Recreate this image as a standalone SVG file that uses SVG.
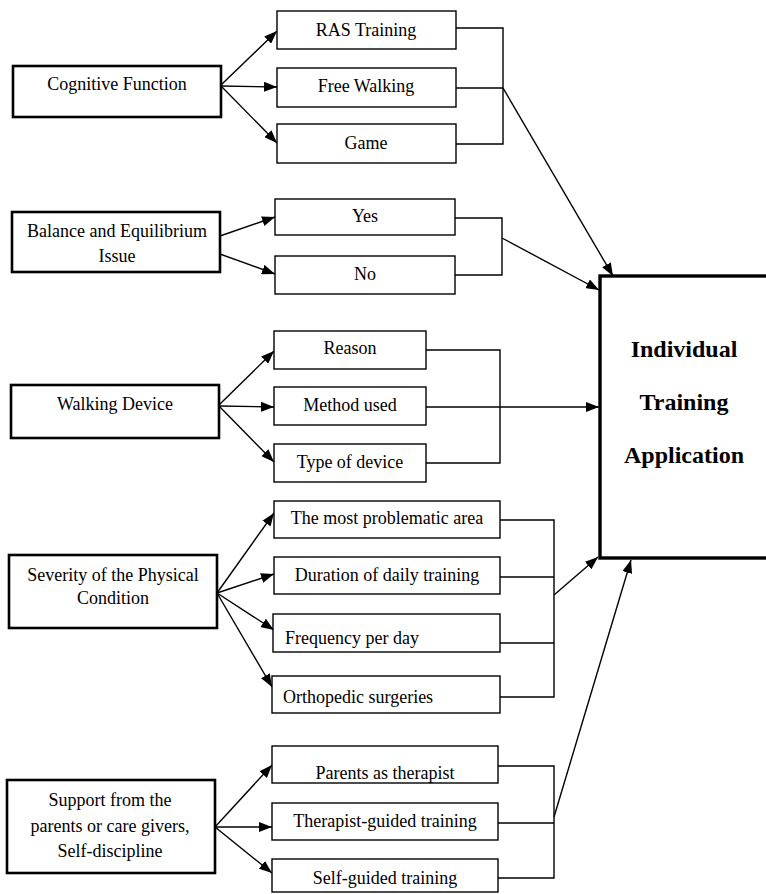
<svg xmlns="http://www.w3.org/2000/svg" width="766" height="894" viewBox="0 0 766 894">
<style>
.bg{fill:#fff}
.main{fill:#fff;stroke:#000;stroke-width:2.6}
.sub{fill:#fff;stroke:#000;stroke-width:1.4}
.big{fill:#fff;stroke:#000;stroke-width:3.4}
.t{font-family:"Liberation Serif","Times New Roman",serif;font-size:18px;fill:#000;text-anchor:middle}
.tl{font-family:"Liberation Serif","Times New Roman",serif;font-size:18px;fill:#000;text-anchor:start}
.tb{font-family:"Liberation Serif","Times New Roman",serif;font-size:24px;font-weight:bold;fill:#000;text-anchor:middle}
.c{fill:none;stroke:#000;stroke-width:1.4}
.a{fill:none;stroke:#000;stroke-width:1.4;marker-end:url(#arr)}
</style>
<defs>
<marker id="arr" markerUnits="userSpaceOnUse" markerWidth="13" markerHeight="10" refX="13" refY="5" orient="auto">
<path d="M0,0 L13,5 L0,10 z" fill="#000"/>
</marker>
</defs>
<rect class="bg" x="0" y="0" width="766" height="894"/>

<g id="connectors">
<!-- Cognitive fan -->
<line class="a" x1="221" y1="85" x2="277" y2="31"/>
<line class="a" x1="221" y1="86" x2="277" y2="87"/>
<line class="a" x1="221" y1="86" x2="277" y2="143"/>
<!-- bracket 1 -->
<polyline class="c" points="456,28 503,28 503,144 456,144"/>
<line class="c" x1="456" y1="88" x2="503" y2="88"/>
<line class="a" x1="503" y1="88" x2="613" y2="276"/>
<!-- Balance fan -->
<line class="a" x1="220" y1="236" x2="275" y2="217"/>
<line class="a" x1="220" y1="254" x2="275" y2="274"/>
<polyline class="c" points="455,218 502,218 502,275 455,275"/>
<line class="a" x1="502" y1="238" x2="599" y2="290"/>
<!-- Walking fan -->
<line class="a" x1="219" y1="405" x2="274" y2="351"/>
<line class="a" x1="219" y1="406" x2="274" y2="407"/>
<line class="a" x1="219" y1="406" x2="274" y2="462"/>
<polyline class="c" points="426,350 500,350 500,463 426,463"/>
<line class="a" x1="426" y1="407" x2="599" y2="407"/>
<!-- Severity fan -->
<line class="a" x1="217" y1="593" x2="274" y2="513"/>
<line class="a" x1="217" y1="593" x2="274" y2="574"/>
<line class="a" x1="217" y1="593" x2="274" y2="630"/>
<line class="a" x1="217" y1="593" x2="272" y2="687"/>
<polyline class="c" points="500,520 554,520 554,697 500,697"/>
<line class="c" x1="500" y1="577" x2="554" y2="577"/>
<line class="c" x1="500" y1="643" x2="554" y2="643"/>
<line class="a" x1="554" y1="595" x2="598" y2="557"/>
<!-- Support fan -->
<line class="a" x1="215" y1="827" x2="272" y2="765"/>
<line class="a" x1="215" y1="827" x2="272" y2="827"/>
<line class="a" x1="215" y1="827" x2="272" y2="873"/>
<polyline class="c" points="498,766 554,766 554,878 498,878"/>
<line class="c" x1="498" y1="823" x2="554" y2="823"/>
<line class="a" x1="554" y1="817" x2="631" y2="560"/>
</g>

<g id="n-cognitive">
<rect class="main" x="13" y="66" width="208" height="51"/>
<text class="t" x="117" y="90">Cognitive Function</text>
</g>
<g id="n-ras">
<rect class="sub" x="277" y="11" width="179" height="38"/>
<text class="t" x="366" y="36">RAS Training</text>
</g>
<g id="n-free">
<rect class="sub" x="277" y="68" width="179" height="39"/>
<text class="t" x="366" y="92">Free Walking</text>
</g>
<g id="n-game">
<rect class="sub" x="277" y="124" width="179" height="39"/>
<text class="t" x="366" y="149">Game</text>
</g>

<g id="n-balance">
<rect class="main" x="12" y="212" width="208" height="60"/>
<text class="t" x="117" y="237">Balance and Equilibrium</text>
<text class="t" x="117" y="262">Issue</text>
</g>
<g id="n-yes">
<rect class="sub" x="275" y="199" width="180" height="36"/>
<text class="t" x="365" y="222">Yes</text>
</g>
<g id="n-no">
<rect class="sub" x="275" y="256" width="180" height="38"/>
<text class="t" x="365" y="280">No</text>
</g>

<g id="n-walking">
<rect class="main" x="11" y="385" width="208" height="53"/>
<text class="t" x="115" y="410">Walking Device</text>
</g>
<g id="n-reason">
<rect class="sub" x="274" y="331" width="152" height="38"/>
<text class="t" x="350" y="354">Reason</text>
</g>
<g id="n-method">
<rect class="sub" x="274" y="387" width="152" height="38"/>
<text class="t" x="350" y="411">Method used</text>
</g>
<g id="n-type">
<rect class="sub" x="274" y="444" width="152" height="38"/>
<text class="t" x="350" y="468">Type of device</text>
</g>

<g id="n-severity">
<rect class="main" x="9" y="555" width="208" height="73"/>
<text class="t" x="113" y="581">Severity of the Physical</text>
<text class="t" x="113" y="604">Condition</text>
</g>
<g id="n-problematic">
<rect class="sub" x="274" y="501" width="226" height="37"/>
<text class="t" x="387" y="524">The most problematic area</text>
</g>
<g id="n-duration">
<rect class="sub" x="274" y="557" width="226" height="37"/>
<text class="t" x="387" y="581">Duration of daily training</text>
</g>
<g id="n-frequency">
<rect class="sub" x="273" y="614" width="227" height="38"/>
<text class="tl" x="285" y="644">Frequency per day</text>
</g>
<g id="n-orthopedic">
<rect class="sub" x="272" y="676" width="228" height="37"/>
<text class="tl" x="283" y="703">Orthopedic surgeries</text>
</g>

<g id="n-support">
<rect class="main" x="7" y="780" width="208" height="93"/>
<text class="t" x="110" y="806">Support from the</text>
<text class="t" x="110" y="832">parents or care givers,</text>
<text class="t" x="110" y="857">Self-discipline</text>
</g>
<g id="n-parents">
<rect class="sub" x="272" y="746" width="226" height="37"/>
<text class="t" x="385" y="779">Parents as therapist</text>
</g>
<g id="n-therapist">
<rect class="sub" x="272" y="803" width="226" height="37"/>
<text class="t" x="385" y="827">Therapist-guided training</text>
</g>
<g id="n-self">
<rect class="sub" x="272" y="859" width="226" height="33"/>
<text class="t" x="385" y="884">Self-guided training</text>
</g>

<g id="n-individual">
<rect class="big" x="600" y="276" width="180" height="282"/>
<text class="tb" x="684" y="357">Individual</text>
<text class="tb" x="684" y="410">Training</text>
<text class="tb" x="684" y="463">Application</text>
</g>
</svg>
